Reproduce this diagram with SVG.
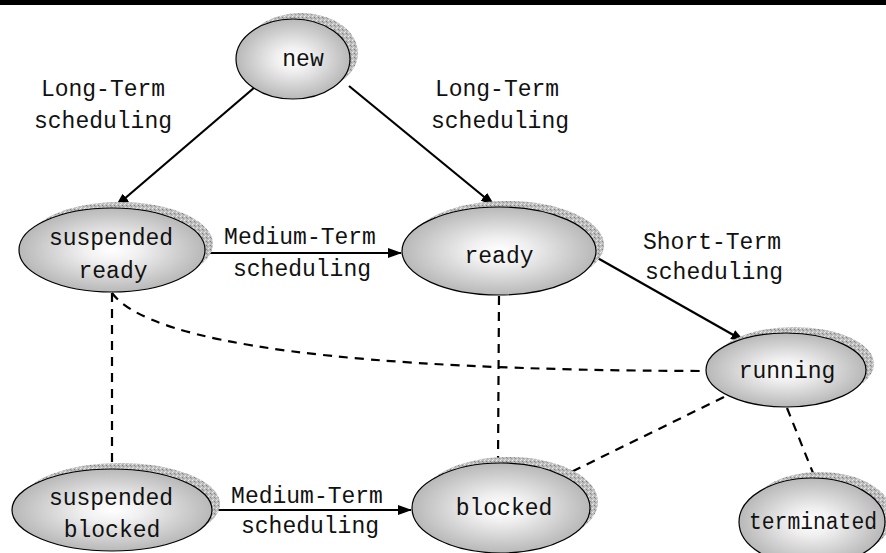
<svg xmlns="http://www.w3.org/2000/svg" width="886" height="553" viewBox="0 0 886 553">
<defs>
<radialGradient id="g" cx="0.5" cy="0.5" r="0.5">
<stop offset="0" stop-color="#ffffff"/>
<stop offset="0.3" stop-color="#f0f0f0"/>
<stop offset="1" stop-color="#b8b8b8"/>
</radialGradient>
<pattern id="st" width="4" height="4" patternUnits="userSpaceOnUse">
<rect width="4" height="4" fill="#bdbdbd"/>
<rect x="0" y="0" width="1" height="1" fill="#ececec"/>
<rect x="2" y="1" width="1" height="1" fill="#808080"/>
<rect x="1" y="3" width="1" height="1" fill="#e0e0e0"/>
<rect x="3" y="2" width="1" height="1" fill="#999"/>
</pattern>
<marker id="ah" viewBox="0 0 14 10" refX="13" refY="5" markerWidth="14" markerHeight="10" markerUnits="userSpaceOnUse" orient="auto">
<path d="M0,0 L14,5 L0,10 z" fill="#000"/>
</marker>
</defs>
<style>
.sh{fill:url(#st);stroke:none}
.el{fill:url(#g);stroke:#000;stroke-width:1.2}
text{font-family:"Liberation Mono","Courier New",monospace;font-size:23px;fill:#111;text-anchor:middle}
.s{stroke:#000;stroke-width:2.2;fill:none}
.d{stroke:#000;stroke-width:2.2;fill:none;stroke-dasharray:9,7}
</style>
<rect x="0" y="0" width="886" height="5" fill="#000"/>
<g id="connectors">
<line class="s" x1="255" y1="87" x2="116" y2="206" marker-end="url(#ah)"/>
<line class="s" x1="349" y1="86" x2="494" y2="205" marker-end="url(#ah)"/>
<line class="s" x1="205" y1="253" x2="401" y2="253" marker-end="url(#ah)"/>
<line class="s" x1="594" y1="256" x2="744" y2="341" marker-end="url(#ah)"/>
<line class="s" x1="213" y1="510" x2="411" y2="510" marker-end="url(#ah)"/>
<path class="d" d="M112,293 Q170,370 706,371"/>
<line class="d" x1="112" y1="293" x2="112" y2="469"/>
<line class="d" x1="499" y1="296" x2="498" y2="463"/>
<line class="d" x1="724" y1="397" x2="563" y2="476"/>
<line class="d" x1="787" y1="408" x2="815" y2="478"/>
<text x="103" y="96">Long-Term</text>
<text x="103" y="128">scheduling</text>
<text x="497" y="96">Long-Term</text>
<text x="500" y="128">scheduling</text>
<text x="300" y="244">Medium-Term</text>
<text x="302" y="276">scheduling</text>
<text x="712" y="249">Short-Term</text>
<text x="714" y="279">scheduling</text>
<text x="307" y="503">Medium-Term</text>
<text x="310" y="533">scheduling</text>
</g>
<g id="new">
<ellipse class="sh" cx="301" cy="53" rx="57" ry="40"/>
<ellipse class="el" cx="293" cy="59" rx="57" ry="40"/>
<text x="303" y="66">new</text>
</g>
<g id="suspended_ready">
<ellipse class="sh" cx="120" cy="244" rx="93" ry="42"/>
<ellipse class="el" cx="112" cy="250" rx="93" ry="42"/>
<text x="111" y="245">suspended</text>
<text x="113" y="278">ready</text>
</g>
<g id="ready">
<ellipse class="sh" cx="507" cy="245" rx="97" ry="44"/>
<ellipse class="el" cx="499" cy="251" rx="97" ry="44"/>
<text x="499" y="263">ready</text>
</g>
<g id="running">
<ellipse class="sh" cx="794" cy="364" rx="80" ry="37"/>
<ellipse class="el" cx="786" cy="370" rx="80" ry="37"/>
<text x="787" y="378">running</text>
</g>
<g id="suspended_blocked">
<ellipse class="sh" cx="120" cy="504" rx="100" ry="41"/>
<ellipse class="el" cx="112" cy="510" rx="100" ry="41"/>
<text x="111" y="505">suspended</text>
<text x="112" y="537">blocked</text>
</g>
<g id="blocked">
<ellipse class="sh" cx="509" cy="502" rx="89" ry="45"/>
<ellipse class="el" cx="501" cy="508" rx="89" ry="45"/>
<text x="504" y="515">blocked</text>
</g>
<g id="terminated">
<ellipse class="sh" cx="820" cy="516" rx="73" ry="44"/>
<ellipse class="el" cx="812" cy="522" rx="73" ry="44"/>
<text x="813" y="529" textLength="128" lengthAdjust="spacingAndGlyphs">terminated</text>
</g>
</svg>
